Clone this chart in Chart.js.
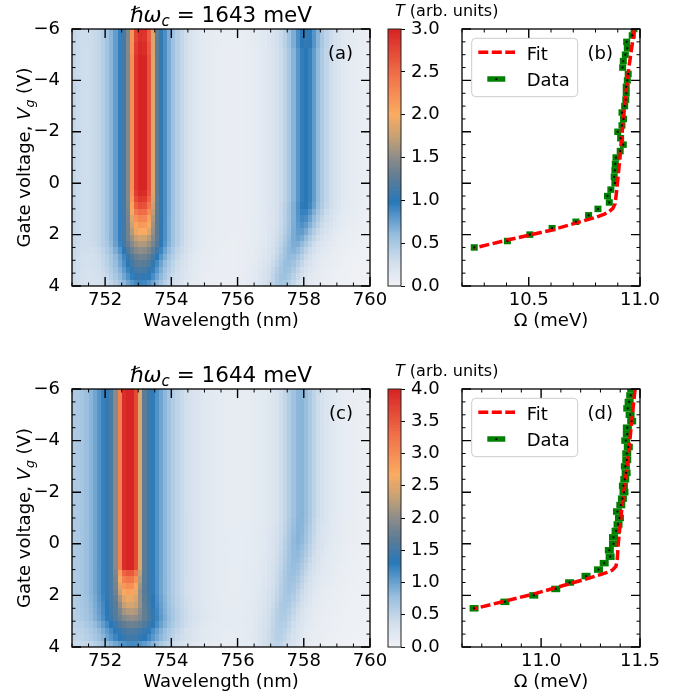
<!DOCTYPE html>
<html>
<head>
<meta charset="utf-8">
<script src="https://cdn.jsdelivr.net/npm/chart.js@4.4.0/dist/chart.umd.min.js"></script>
<style>
  html, body { margin: 0; padding: 0; background: #fff; }
  #wrap { position: relative; width: 686px; height: 698px; }
  #wrap canvas { position: absolute; left: 0; top: 0; }
</style>
</head>
<body>
<div id="wrap">
  <canvas id="mapA" width="686" height="698"></canvas>
  <canvas id="cbarA" width="686" height="698"></canvas>
  <canvas id="fitB" width="686" height="698"></canvas>
  <canvas id="mapC" width="686" height="698"></canvas>
  <canvas id="cbarC" width="686" height="698"></canvas>
  <canvas id="fitD" width="686" height="698"></canvas>
</div>
<script>
// ---- axis ticks ----
const wavelengthTicks = [752, 754, 756, 758, 760];
const wavelengthTickLabels = ['752', '754', '756', '758', '760'];
const gateTicks = [-6, -4, -2, 0, 2, 4];
const gateTickLabels = ['\u22126', '\u22124', '\u22122', '0', '2', '4'];
const cbarTicksA = [0, 0.5, 1, 1.5, 2, 2.5, 3];
const cbarTicksC = [0, 0.5, 1, 1.5, 2, 2.5, 3, 3.5, 4];
const omegaTicksB = [10.5, 11.0];
const omegaTicksD = [11.0, 11.5];

// ---- heatmap rows: 0.25 V bins from -6 V (top) to 4 V (bottom) ----
// panel (a): main cavity peak (narrow core + broad wings) and the second peak near 758 nm
const coreA = [1.20, 1.20, 1.25, 1.25, 1.30, 1.30, 1.30, 1.30, 1.30, 1.30,
               1.30, 1.30, 1.30, 1.30, 1.30, 1.30, 1.30, 1.30, 1.30, 1.30,
               1.30, 1.30, 1.30, 1.30, 1.30, 1.25, 1.15, 1.00, 0.80, 0.60,
               0.45, 0.30, 0.10, 0.00, 0.00, 0.00, 0.00, 0.00, 0.00, 0.00];
const wingA = [1.70, 1.70, 1.70, 1.70, 1.70, 1.70, 1.70, 1.70, 1.70, 1.70,
               1.70, 1.70, 1.70, 1.70, 1.70, 1.70, 1.70, 1.70, 1.70, 1.70,
               1.70, 1.70, 1.70, 1.70, 1.70, 1.70, 1.70, 1.70, 1.70, 1.70,
               1.70, 1.70, 1.70, 1.65, 1.50, 1.35, 1.25, 1.15, 1.05, 0.90];
const peakPosA = [753.10, 753.10, 753.10, 753.10, 753.10, 753.10, 753.10, 753.10, 753.10, 753.10,
                  753.10, 753.10, 753.10, 753.10, 753.10, 753.10, 753.10, 753.10, 753.10, 753.10,
                  753.10, 753.10, 753.10, 753.10, 753.10, 753.10, 753.10, 753.10, 753.10, 753.10,
                  753.10, 753.10, 753.10, 753.10, 753.10, 753.10, 753.08, 753.08, 753.08, 753.08];
const sideA = [1.05, 1.05, 1.05, 1.00, 1.00, 1.00, 1.00, 1.00, 1.00, 1.00,
               1.00, 1.00, 1.00, 1.00, 1.00, 1.00, 1.00, 1.00, 1.00, 1.00,
               1.00, 1.00, 1.00, 1.00, 1.00, 1.00, 1.00, 1.00, 0.95, 0.90,
               0.85, 0.80, 0.75, 0.70, 0.66, 0.62, 0.60, 0.58, 0.56, 0.52];
const sidePosA = [758.05, 758.05, 758.05, 758.05, 758.05, 758.05, 758.05, 758.05, 758.05, 758.05,
                  758.05, 758.05, 758.05, 758.05, 758.05, 758.05, 758.05, 758.05, 758.05, 758.05,
                  758.05, 758.05, 758.05, 758.05, 758.05, 758.05, 758.05, 758.03, 758.00, 757.97,
                  757.93, 757.88, 757.82, 757.75, 757.68, 757.60, 757.53, 757.46, 757.40, 757.35];

// panel (c)
const coreC = [2.10, 2.10, 2.10, 2.10, 2.10, 2.10, 2.10, 2.10, 2.10, 2.10,
               2.10, 2.10, 2.10, 2.10, 2.10, 2.10, 2.10, 2.10, 2.10, 2.10,
               2.10, 2.10, 2.10, 2.10, 2.10, 2.10, 2.10, 2.10, 1.60, 1.30,
               1.05, 0.85, 0.65, 0.50, 0.30, 0.10, 0.00, 0.00, 0.00, 0.00];
const wingC = [1.90, 1.90, 1.90, 1.90, 1.90, 1.90, 1.90, 1.90, 1.90, 1.90,
               1.90, 1.90, 1.90, 1.90, 1.90, 1.90, 1.90, 1.90, 1.90, 1.90,
               1.90, 1.90, 1.90, 1.90, 1.90, 1.90, 1.90, 1.90, 1.90, 1.90,
               1.90, 1.90, 1.90, 1.90, 1.90, 1.90, 1.75, 1.55, 1.45, 1.15];
const peakPosC = [752.72, 752.72, 752.72, 752.72, 752.72, 752.72, 752.72, 752.72, 752.72, 752.72,
                  752.72, 752.72, 752.72, 752.72, 752.72, 752.72, 752.72, 752.72, 752.72, 752.72,
                  752.72, 752.72, 752.72, 752.72, 752.72, 752.72, 752.72, 752.72, 752.72, 752.72,
                  752.72, 752.72, 752.74, 752.76, 752.78, 752.80, 752.82, 752.82, 752.82, 752.82];
const sideC = [0.85, 0.85, 0.85, 0.85, 0.85, 0.85, 0.85, 0.85, 0.85, 0.85,
               0.85, 0.85, 0.85, 0.85, 0.85, 0.85, 0.85, 0.85, 0.85, 0.85,
               0.85, 0.85, 0.85, 0.85, 0.83, 0.81, 0.79, 0.77, 0.75, 0.72,
               0.70, 0.68, 0.66, 0.64, 0.62, 0.60, 0.58, 0.56, 0.54, 0.50];
const sidePosC = [757.90, 757.90, 757.90, 757.90, 757.90, 757.90, 757.90, 757.90, 757.90, 757.90,
                  757.90, 757.90, 757.90, 757.90, 757.90, 757.90, 757.90, 757.90, 757.90, 757.90,
                  757.88, 757.86, 757.84, 757.82, 757.80, 757.77, 757.74, 757.70, 757.66, 757.62,
                  757.58, 757.54, 757.50, 757.45, 757.40, 757.36, 757.32, 757.28, 757.24, 757.20];

// ---- fitted polariton branch, panels (b) and (d) ----
const gateVoltage = [-6, -5.75, -5.5, -5.25, -5, -4.75, -4.5, -4.25, -4, -3.75, -3.5, -3.25,
                     -3, -2.75, -2.5, -2.25, -2, -1.75, -1.5, -1.25, -1, -0.75, -0.5, -0.25,
                     0, 0.25, 0.5, 0.75, 1, 1.25, 1.5, 1.75, 2, 2.25, 2.5];
const omegaB = [10.973, 10.965, 10.940, 10.943, 10.934, 10.925, 10.922, 10.947, 10.943, 10.938,
                10.938, 10.936, 10.931, 10.919, 10.926, 10.919, 10.900, 10.913, 10.925, 10.911,
                10.892, 10.889, 10.887, 10.884, 10.887, 10.869, 10.854, 10.862, 10.811, 10.769,
                10.712, 10.605, 10.505, 10.404, 10.255];
const omegaD = [11.458, 11.453, 11.445, 11.438, 11.450, 11.458, 11.436, 11.436, 11.428, 11.441,
                11.433, 11.433, 11.426, 11.430, 11.423, 11.416, 11.419, 11.411, 11.403, 11.386,
                11.396, 11.389, 11.379, 11.366, 11.366, 11.345, 11.349, 11.319, 11.290, 11.227,
                11.144, 11.074, 10.963, 10.817, 10.661];
const fitOmegaB = [10.975, 10.950, 10.930, 10.910, 10.895, 10.888, 10.878, 10.862, 10.840, 10.800, 10.600, 10.400, 10.255];
const fitGateB  = [-6.00, -4.50, -3.00, -1.00, 0.30, 0.80, 0.98, 1.10, 1.20, 1.33, 1.83, 2.22, 2.52];
const fitOmegaD = [11.475, 11.455, 11.435, 11.410, 11.390, 11.385, 11.378, 11.360, 11.330, 11.230, 10.960, 10.660];
const fitGateD  = [-6.00, -4.50, -3.00, -1.50, 0.00, 0.60, 0.88, 1.02, 1.12, 1.36, 1.95, 2.52];

const FAM = "'DejaVu Sans', sans-serif";
Chart.defaults.color = '#000';
Chart.defaults.font.family = FAM;
Chart.defaults.font.size = 18;

// white -> blue -> grey -> orange -> red
const cmapStops = [
  [0.00, 242, 243, 246], [0.10, 208, 222, 236], [0.20, 152, 190, 222],
  [0.33, 40, 120, 185], [0.42, 92, 124, 150], [0.50, 140, 140, 138],
  [0.58, 196, 160, 118], [0.67, 250, 172, 98], [0.83, 240, 110, 72],
  [1.00, 215, 36, 36]
];
function colormap(t) {
  t = Math.max(0, Math.min(1, t));
  for (let k = 1; k < cmapStops.length; k++) {
    const a = cmapStops[k - 1], b = cmapStops[k];
    if (t <= b[0]) {
      const f = (t - a[0]) / (b[0] - a[0]);
      return `rgb(${Math.round(a[1] + f * (b[1] - a[1]))},${Math.round(a[2] + f * (b[2] - a[2]))},${Math.round(a[3] + f * (b[3] - a[3]))})`;
    }
  }
  return 'rgb(215,36,36)';
}

const panelA = { core: coreA, wing: wingA, pos: peakPosA, side: sideA, sidePos: sidePosA,
                 coreW: 0.33, wingW: 1.1, sideW: 0.5, bg: 0.0, edge: 0.30, vmax: 3 };
const panelC = { core: coreC, wing: wingC, pos: peakPosC, side: sideC, sidePos: sidePosC,
                 coreW: 0.34, wingW: 1.5, sideW: 0.5, bg: 0.02, edge: 0.25, vmax: 4 };

// spectrum of one gate-voltage row
function transmission(p, i, lam) {
  const d1 = lam - p.pos[i], d2 = lam - p.sidePos[i];
  const w = 1 + (d1 / p.wingW) ** 2;
  return p.bg + p.edge * Math.exp(-(lam - 751) / 0.6)
       + p.core[i] * Math.exp(-Math.pow(d1 / p.coreW, 4))
       + p.wing[i] / (w * w)
       + p.side[i] / (1 + (d2 / p.sideW) ** 2);
}

function drawRich(ctx, parts, x, y, align, size) {
  const fontFor = p => `${p.it ? 'italic ' : ''}${p.sub ? size * 0.7 : size}px ${FAM}`;
  let w = 0;
  parts.forEach(p => { ctx.font = fontFor(p); w += ctx.measureText(p.t).width; });
  let cx = align === 'center' ? x - w / 2 : align === 'right' ? x - w : x;
  ctx.textAlign = 'left';
  ctx.textBaseline = 'alphabetic';
  parts.forEach(p => {
    ctx.font = fontFor(p);
    ctx.fillText(p.t, cx, y + (p.sub ? size * 0.22 : 0));
    cx += ctx.measureText(p.t).width;
  });
}

function drawFrame(chart, xMajor, xStep, yMajor, yStep) {
  const { ctx, chartArea: a, scales: { x, y } } = chart;
  ctx.save();
  ctx.strokeStyle = '#000';
  const isMajor = (v, list) => list.some(m => Math.abs(m - v) < 1e-6);
  const xt = (v, len, lw) => {
    const px = x.getPixelForValue(v);
    ctx.lineWidth = lw; ctx.beginPath();
    ctx.moveTo(px, a.bottom); ctx.lineTo(px, a.bottom - len);
    ctx.moveTo(px, a.top); ctx.lineTo(px, a.top + len); ctx.stroke();
  };
  const yt = (v, len, lw) => {
    const py = y.getPixelForValue(v);
    ctx.lineWidth = lw; ctx.beginPath();
    ctx.moveTo(a.left, py); ctx.lineTo(a.left + len, py);
    ctx.moveTo(a.right, py); ctx.lineTo(a.right - len, py); ctx.stroke();
  };
  const x0 = Math.ceil(x.min / xStep - 1e-6) * xStep;
  for (let v = x0; v <= x.max + 1e-9; v += xStep) if (!isMajor(v, xMajor)) xt(v, 3.5, 1);
  const y0 = Math.ceil(y.min / yStep - 1e-6) * yStep;
  for (let v = y0; v <= y.max + 1e-9; v += yStep) if (!isMajor(v, yMajor)) yt(v, 3.5, 1);
  xMajor.forEach(v => xt(v, 9, 1.4));
  yMajor.forEach(v => yt(v, 9, 1.4));
  ctx.lineWidth = 1.3;
  ctx.strokeRect(a.left, a.top, a.right - a.left, a.bottom - a.top);
  ctx.restore();
}

const fixedTicks = list => s => { s.ticks = list.map(v => ({ value: v })); };

function mapChart(id, panel, box, title, label) {
  const plugin = {
    id: 'heatmap' + id,
    afterDraw(chart) {
      const { ctx, chartArea: a, scales: { x, y } } = chart;
      ctx.save();
      ctx.beginPath(); ctx.rect(a.left, a.top, a.right - a.left, a.bottom - a.top); ctx.clip();
      const nRows = panel.core.length, cellV = (y.max - y.min) / nRows;
      const cellNm = 0.125, nCols = Math.round((x.max - x.min) / cellNm);
      for (let i = 0; i < nRows; i++) {
        const v0 = y.min + i * cellV, v1 = v0 + cellV;
        const p0 = Math.round(y.getPixelForValue(v0)), p1 = Math.round(y.getPixelForValue(v1));
        for (let j = 0; j < nCols; j++) {
          const l0 = x.min + j * cellNm, l1 = l0 + cellNm;
          const q0 = Math.round(x.getPixelForValue(l0)), q1 = Math.round(x.getPixelForValue(l1));
          ctx.fillStyle = colormap(transmission(panel, i, (l0 + l1) / 2) / panel.vmax);
          ctx.fillRect(q0, Math.min(p0, p1), q1 - q0, Math.abs(p1 - p0));
        }
      }
      ctx.restore();
      drawFrame(chart, wavelengthTicks, 0.5, gateTicks, 0.5);
      ctx.save();
      ctx.fillStyle = '#000';
      drawRich(ctx, [{ t: '\u210F\u03C9', it: true }, { t: 'c', it: true, sub: true }, { t: ' = ' + title + ' meV' }],
               (a.left + a.right) / 2, a.top - 7.5, 'center', 21.5);
      drawRich(ctx, [{ t: 'Wavelength (nm)' }], (a.left + a.right) / 2, a.bottom + 40, 'center', 18);
      drawRich(ctx, [{ t: label }], a.right - 17, a.top + 30, 'right', 18);
      ctx.translate(30, (a.top + a.bottom) / 2);
      ctx.rotate(-Math.PI / 2);
      drawRich(ctx, [{ t: 'Gate voltage, ' }, { t: 'V', it: true }, { t: 'g', it: true, sub: true }, { t: ' (V)' }], 0, 0, 'center', 18);
      ctx.restore();
    }
  };
  return new Chart(document.getElementById(id), {
    type: 'scatter',
    data: { datasets: [] },
    options: {
      responsive: false, animation: false, events: [],
      layout: { padding: { left: box.left - 60, top: box.top, right: 686 - box.right, bottom: 698 - box.bottom - 30 } },
      plugins: { legend: { display: false }, tooltip: { enabled: false } },
      scales: {
        x: { type: 'linear', min: 751, max: 760, grid: { display: false }, border: { display: false },
             afterFit: s => { s.height = 30; }, afterBuildTicks: fixedTicks(wavelengthTicks),
             ticks: { padding: -4, maxRotation: 0, autoSkip: false, callback: (v, i) => wavelengthTickLabels[i] } },
        y: { type: 'linear', min: -6, max: 4, reverse: true, grid: { display: false }, border: { display: false },
             afterFit: s => { s.width = 60; }, afterBuildTicks: fixedTicks(gateTicks),
             ticks: { padding: 4, autoSkip: false, callback: (v, i) => gateTickLabels[i] } }
      }
    },
    plugins: [plugin]
  });
}

function cbarChart(id, vmax, ticks, box) {
  const plugin = {
    id: 'cbar' + id,
    afterDraw(chart) {
      const { ctx, chartArea: a, scales: { y } } = chart;
      ctx.save();
      const steps = 300;
      for (let k = 0; k < steps; k++) {
        const v0 = vmax * k / steps, v1 = vmax * (k + 1) / steps;
        const p0 = y.getPixelForValue(v0), p1 = y.getPixelForValue(v1);
        ctx.fillStyle = colormap((v0 + v1) / 2 / vmax);
        ctx.fillRect(a.left, p1, a.right - a.left, p0 - p1 + 0.7);
      }
      ctx.strokeStyle = '#222'; ctx.lineWidth = 1;
      ctx.strokeRect(a.left, a.top, a.right - a.left, a.bottom - a.top);
      ctx.fillStyle = '#000';
      drawRich(ctx, [{ t: 'T', it: true }, { t: ' (arb. units)' }], a.left + 7, a.top - 13, 'left', 16);
      ctx.restore();
    }
  };
  return new Chart(document.getElementById(id), {
    type: 'scatter',
    data: { datasets: [] },
    options: {
      responsive: false, animation: false, events: [],
      layout: { padding: { left: box.left, top: box.top, right: 686 - box.right - 45, bottom: 698 - box.bottom } },
      plugins: { legend: { display: false }, tooltip: { enabled: false } },
      scales: {
        x: { display: false, min: 0, max: 1 },
        y: { type: 'linear', position: 'right', min: 0, max: vmax, border: { display: false },
             grid: { display: true, drawOnChartArea: false, drawTicks: true, tickLength: 4, color: '#000', lineWidth: 1 },
             afterFit: s => { s.width = 45; }, afterBuildTicks: fixedTicks(ticks),
             ticks: { padding: 6, autoSkip: false, callback: v => v.toFixed(1) } }
      }
    },
    plugins: [plugin]
  });
}

function fitChart(id, omega, fitOmega, fitGate, range, ticks, box, label, markHalf) {
  const points = omega.map((w, i) => ({ x: w, y: gateVoltage[i] }));
  const fitPoints = fitOmega.map((w, i) => ({ x: w, y: fitGate[i] }));
  const plugin = {
    id: 'fit' + id,
    afterDraw(chart) {
      const { ctx, chartArea: a } = chart;
      drawFrame(chart, ticks, 0.1, gateTicks, 0.5);
      ctx.save();
      // legend
      const lx = a.left + 9.7, ly = a.top + 9.3, lw = 106, lh = 58.4, r = 4;
      ctx.beginPath();
      ctx.moveTo(lx + r, ly); ctx.arcTo(lx + lw, ly, lx + lw, ly + lh, r);
      ctx.arcTo(lx + lw, ly + lh, lx, ly + lh, r); ctx.arcTo(lx, ly + lh, lx, ly, r);
      ctx.arcTo(lx, ly, lx + lw, ly, r); ctx.closePath();
      ctx.fillStyle = 'rgba(255,255,255,0.8)'; ctx.fill();
      ctx.strokeStyle = '#cccccc'; ctx.lineWidth = 1; ctx.stroke();
      ctx.strokeStyle = 'red'; ctx.lineWidth = 3.5; ctx.setLineDash([10, 3.5]);
      ctx.beginPath(); ctx.moveTo(a.left + 16.3, a.top + 23.3); ctx.lineTo(a.left + 53, a.top + 23.3); ctx.stroke();
      ctx.setLineDash([]);
      ctx.strokeStyle = 'green'; ctx.lineWidth = 5.5;
      ctx.beginPath(); ctx.moveTo(a.left + 25.3, a.top + 50); ctx.lineTo(a.left + 43.3, a.top + 50); ctx.stroke();
      ctx.fillStyle = '#000';
      ctx.beginPath(); ctx.arc(a.left + 34.3, a.top + 50, 1.1, 0, Math.PI * 2); ctx.fill();
      drawRich(ctx, [{ t: 'Fit' }], a.left + 64.7, a.top + 31, 'left', 18);
      drawRich(ctx, [{ t: 'Data' }], a.left + 64.7, a.top + 57, 'left', 18);
      drawRich(ctx, [{ t: label }], a.right - 27, a.top + 30, 'right', 18);
      drawRich(ctx, [{ t: '\u03A9 (meV)' }], (a.left + a.right) / 2, a.bottom + 40, 'center', 18);
      ctx.restore();
    }
  };
  return new Chart(document.getElementById(id), {
    type: 'scatter',
    data: {
      datasets: [
        { label: 'marker', data: points, pointRadius: 1.1, pointBackgroundColor: '#000', pointBorderWidth: 0, order: 0 },
        { label: 'Fit', data: fitPoints, showLine: true, borderColor: 'red', borderWidth: 3.5, borderDash: [10, 3.5],
          pointRadius: 0, tension: 0, order: 1 },
        { label: 'Data', data: points, pointStyle: 'line', pointRadius: markHalf, pointBorderWidth: 6.5,
          pointBorderColor: 'green', pointBackgroundColor: 'green', order: 2 }
      ]
    },
    options: {
      responsive: false, animation: false, events: [],
      layout: { padding: { left: box.left, top: box.top, right: 686 - box.right, bottom: 698 - box.bottom - 30 } },
      plugins: { legend: { display: false }, tooltip: { enabled: false } },
      scales: {
        x: { type: 'linear', min: range[0], max: range[1], grid: { display: false }, border: { display: false },
             afterFit: s => { s.height = 30; }, afterBuildTicks: fixedTicks(ticks),
             ticks: { padding: -4, maxRotation: 0, autoSkip: false, callback: v => v.toFixed(1) } },
        y: { type: 'linear', display: false, min: -6, max: 4, reverse: true }
      }
    },
    plugins: [plugin]
  });
}

mapChart('mapA', panelA, { left: 72, top: 29, right: 370, bottom: 286 }, '1643', '(a)');
cbarChart('cbarA', 3, cbarTicksA, { left: 388, top: 29, right: 401, bottom: 286 });
fitChart('fitB', omegaB, fitOmegaB, fitGateB, [10.2, 11.0], omegaTicksB, { left: 462, top: 29, right: 640, bottom: 286 }, '(b)', 3.5);
mapChart('mapC', panelC, { left: 72, top: 389, right: 370, bottom: 647 }, '1644', '(c)');
cbarChart('cbarC', 4, cbarTicksC, { left: 388, top: 389, right: 401, bottom: 647 });
fitChart('fitD', omegaD, fitOmegaD, fitGateD, [10.6, 11.5], omegaTicksD, { left: 462, top: 389, right: 640, bottom: 647 }, '(d)', 4.5);
</script>
</body>
</html>
